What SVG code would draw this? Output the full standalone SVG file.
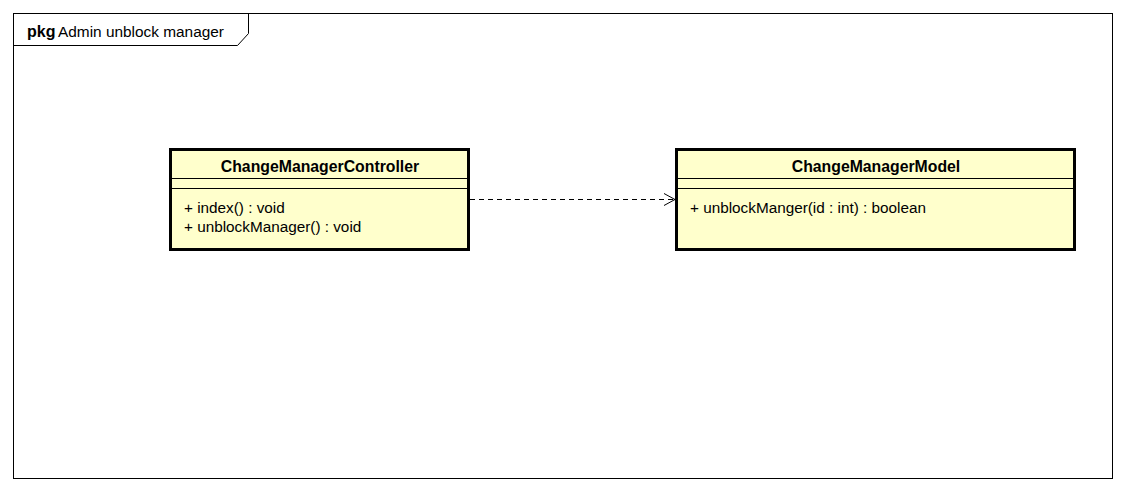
<svg xmlns="http://www.w3.org/2000/svg" width="1125" height="492" viewBox="0 0 1125 492">
  <defs>
    <style>
      text { font-family: "Liberation Sans", Arial, sans-serif; fill: #000; }
      .frame { fill: none; stroke: #000; stroke-width: 1; }
      .cls { fill: #ffffcc; stroke: #000; stroke-width: 3; }
      .sep { stroke: #000; stroke-width: 1; }
      .name { font-size: 15.8px; font-weight: bold; text-anchor: middle; }
      .op { font-size: 15.3px; }
      .dep { fill: none; stroke: #000; stroke-width: 1; stroke-dasharray: 5 4; }
    </style>
    <marker id="open" markerWidth="14" markerHeight="14" refX="12" refY="7" orient="auto" markerUnits="userSpaceOnUse">
      <path d="M1,1 L12,7 L1,13" fill="none" stroke="#000" stroke-width="1"/>
    </marker>
  </defs>
  <rect width="1125" height="492" fill="#fff"/>

  <!-- package frame -->
  <g id="frame">
    <rect class="frame" x="13.5" y="13.5" width="1099" height="465"/>
    <path class="frame" d="M13.5,45.5 H237.5 L248.5,33.5 V13.5"/>
    <text x="27" y="37" style="font-size:16px;font-weight:bold">pkg</text>
    <text x="58" y="37" style="font-size:15.4px">Admin unblock manager</text>
  </g>

  <!-- classes -->
  <g id="ChangeManagerController">
    <rect class="cls" x="170.5" y="149.5" width="298" height="100"/>
    <line class="sep" x1="170" y1="178.5" x2="469" y2="178.5"/>
    <line class="sep" x1="170" y1="188.5" x2="469" y2="188.5"/>
    <text class="name" x="320" y="172">ChangeManagerController</text>
    <text class="op" x="184" y="213">+ index() : void</text>
    <text class="op" x="184" y="232">+ unblockManager() : void</text>
  </g>

  <g id="ChangeManagerModel">
    <rect class="cls" x="676.5" y="149.5" width="398" height="100"/>
    <line class="sep" x1="676" y1="178.5" x2="1075" y2="178.5"/>
    <line class="sep" x1="676" y1="188.5" x2="1075" y2="188.5"/>
    <text class="name" x="876" y="172">ChangeManagerModel</text>
    <text class="op" x="690" y="213">+ unblockManger(id : int) : boolean</text>
  </g>

  <!-- connectors -->
  <g id="connectors">
    <line class="dep" x1="470" y1="199.5" x2="675" y2="199.5" marker-end="url(#open)"/>
  </g>
</svg>
